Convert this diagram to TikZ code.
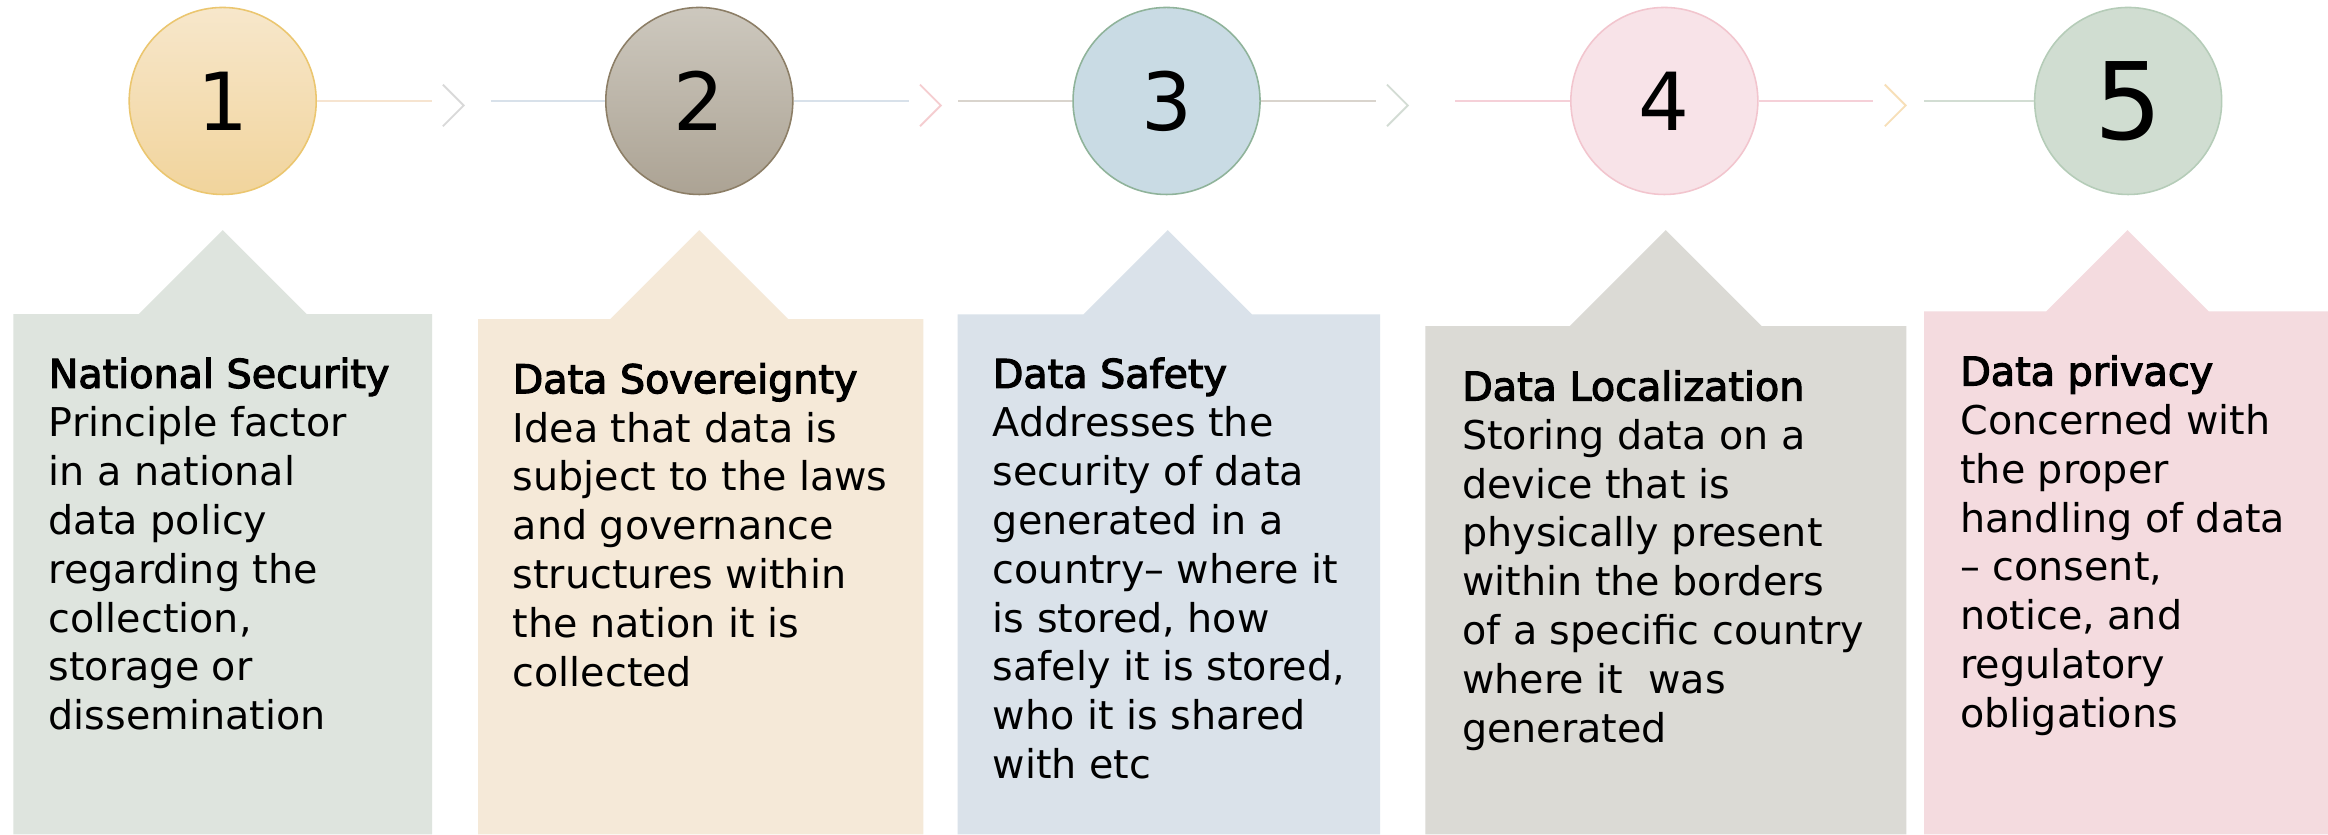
\documentclass[tikz,border=0pt]{standalone}
\usepackage{fontspec}
\setmainfont{DejaVu Sans}
\newfontfamily\headfont[FakeBold=3]{DejaVu Sans}

\definecolor{boxA}{HTML}{DEE4DE}
\definecolor{boxB}{HTML}{F5E9D8}
\definecolor{boxC}{HTML}{DAE2EA}
\definecolor{boxD}{HTML}{DBDAD5}
\definecolor{boxE}{HTML}{F4DBDF}
\definecolor{lnPeach}{HTML}{F6E4D0}
\definecolor{lnBlue}{HTML}{D8E1EA}
\definecolor{lnWarm}{HTML}{D9D4CD}
\definecolor{lnPink}{HTML}{F5D0D8}
\definecolor{lnGreen}{HTML}{D2DDD3}
\definecolor{chGrey}{HTML}{D9D9D9}
\definecolor{chPink}{HTML}{F5CDD0}
\definecolor{chSage}{HTML}{D3DCD4}
\definecolor{chPeach}{HTML}{F7DFB8}

\begin{document}
\begin{tikzpicture}[x=0.02cm, y=-0.02cm,
  stepball/.style={circle, line width=0.6pt, minimum size=2.52cm, inner sep=0pt},
  link/.style={line width=1pt},
  chev/.style={line width=0.7pt},
  infotext/.style={align=left, inner sep=0pt, anchor=north west,
    font=\fontsize{15.2}{18.72}\selectfont}]
\useasboundingbox (0,0) rectangle (1568,562);
\fill[white] (0,0) rectangle (1568,562);

% callout boxes with the pointer up to the circle
\foreach \l/\r/\t/\a/\c in {9/291/211.5/150/boxA, 322/622/215/471/boxB,
    645/929.5/211.7/786.5/boxC, 960/1284/219.6/1122/boxD, 1296/1568/209.7/1433/boxE}
  \fill[\c] (\l,562) -- (\l,\t) -- ({\a-(\t-155)},\t) -- (\a,155)
    -- ({\a+(\t-155)},\t) -- (\r,\t) -- (\r,562) -- cycle;

% numbered circles
\foreach \n/\x/\tc/\bc/\dc/\s in {1/150/F7E7CB/F1D49C/EBC66F/30.7,
    2/471/CDC8BE/ACA394/8C7E66/30.7, 3/785.7/C9DBE4/C9DBE4/8FB39A/30.7,
    4/1121/F8E3E8/F8E3E8/F2C5CE/30.7, 5/1433.4/D0DDD1/D0DDD1/B5CCB8/41}
{
  \definecolor{tc}{HTML}{\tc}
  \definecolor{bc}{HTML}{\bc}
  \definecolor{dc}{HTML}{\dc}
  \node[stepball, top color=tc, bottom color=bc, draw=dc,
    font=\fontsize{\s}{\s}\selectfont] (c\n) at (\x,68) {\n};
}

% links between circles
\foreach \i/\j/\e/\cl/\s/\ca/\cb/\cc in {1/2/290.8/298.3/330.7/lnPeach/lnBlue/chGrey,
    2/3/612/619.7/645.3/lnBlue/lnWarm/chPink,
    3/4/926.5/934.2/980/lnWarm/lnPink/chSage,
    4/5/1261.4/1269.5/1296/lnPink/lnGreen/chPeach}
{
  \coordinate (e\i) at (\e,68);
  \coordinate (s\i) at (\s,68);
  \draw[link, \ca] (c\i) -- (e\i);
  \draw[link, \cb] (s\i) -- (c\j);
  \draw[chev, \cc] (\cl,57) -- ({\cl+14},71) -- (\cl,85);
}

% texts
\node[infotext] (t1) at (32.5,240.6) {{\headfont National Security}\\Principle factor\\in a national\\data policy\\regarding the\\collection,\\storage or\\dissemination};
\node[infotext] (t2) at (345,244.2) {{\headfont Data Sovereignty}\\Idea that data is\\subject to the laws\\and governance\\structures within\\the nation it is\\collected};
\node[infotext] (t3) at (668.4,240.6) {{\headfont Data Safety}\\Addresses the\\security of data\\generated in a\\country– where it\\is stored, how\\safely it is stored,\\who it is shared\\with etc};
\node[infotext] (t4) at (984.5,249.1) {{\headfont Data Localization}\\Storing data on a\\device that is\\physically present\\within the borders\\of a specific country\\where it\ \ was\\generated};
\node[infotext] (t5) at (1320,239) {{\headfont Data privacy}\\Concerned with\\the proper\\handling of data\\– consent,\\notice, and\\regulatory\\obligations};
\end{tikzpicture}
\end{document}
